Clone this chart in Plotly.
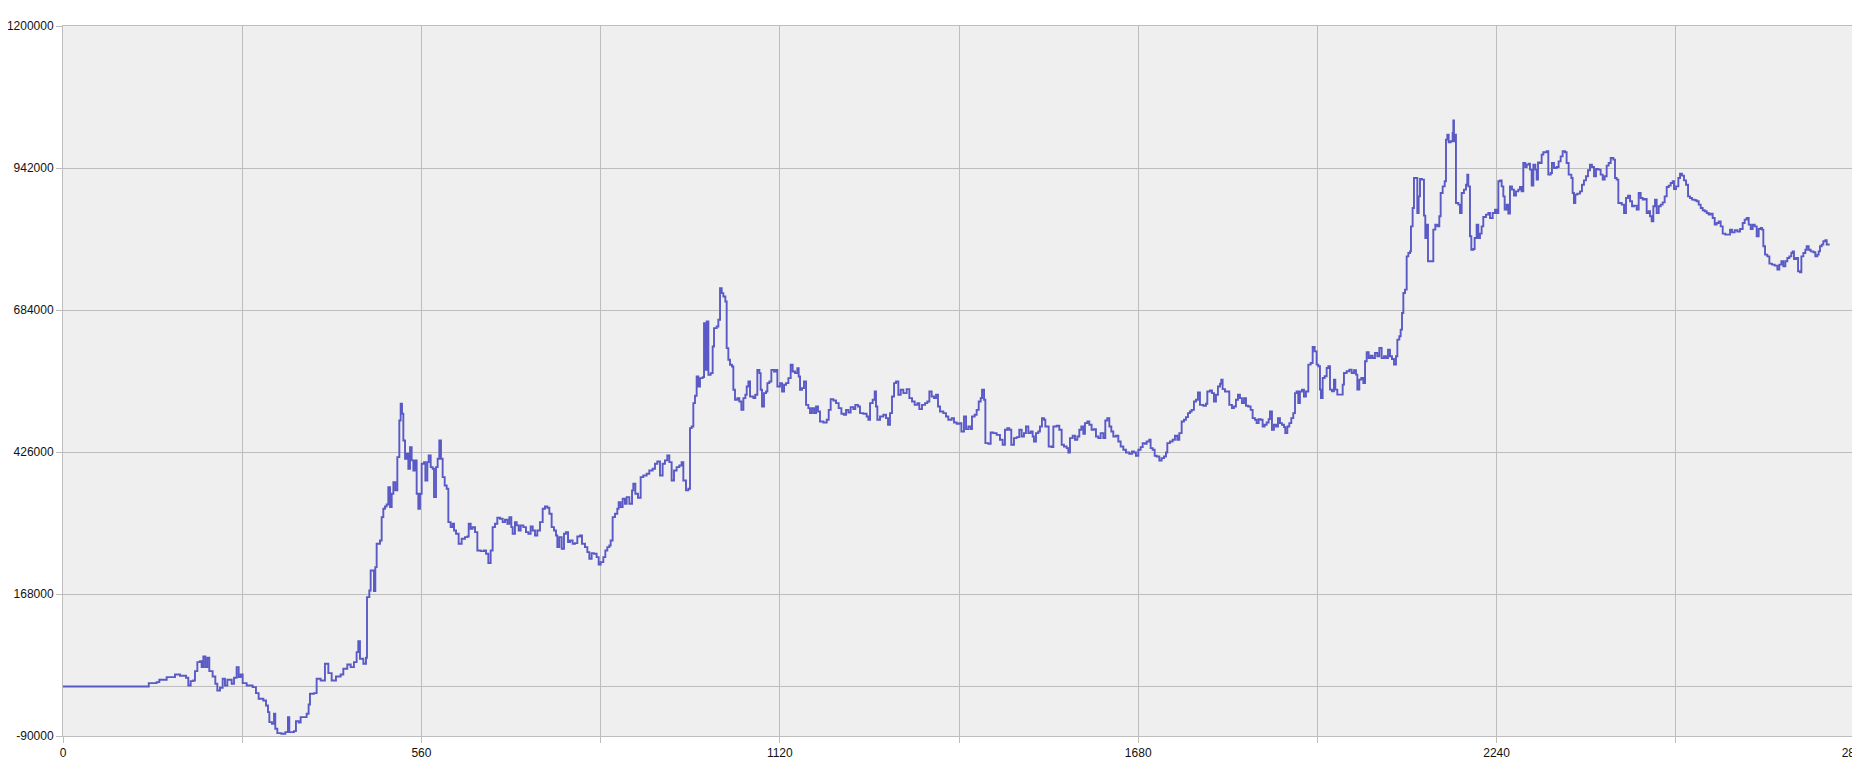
import plotly.graph_objects as go

# Data (x = step index, y = value)
xs = [
0,133.3,134,146.3,150.5,162,175,182.8,192.2,195.8,199.5,203.6,206.2,209.9,214,216.6,219.3,222.4,225.5,228.6,233.8,238,241.1,245.3,249.5,253.1,256.8,263.5,267.2,271.3,274.5,277.6,280.7,287,296.3,301.5,305.7,313,317.2,320.3,322.4,326.5,329.7,331.7,334.9,341.1,347.4,351.5,353.6,360.9,364,368.2,371.3,380.7,383.8,385.9,392.1,396.3,402.6,409.3,414.6,419.8,426.5,433.8,438,444.2,449.5,454.6,458.8,461.4,464,469.3,473.4,475,478.6,480.7,483.8,485.9,488,
490.1,495.3,497.9,500.5,503.1,505.7,508.3,511,513.6,516.2,519.3,522.4,525.5,527.6,529.7,531.8,534.4,537,539.6,542.2,544.8,547.4,550,552.6,555.2,557.8,560.4,564.1,566.2,569.3,571.4,574.5,577.6,579.7,582.8,585.4,588,590.6,593.2,596.4,599.5,602.1,605.7,608.9,611,614.1,618.2,622.9,628.1,631.8,633.9,637,640.1,643.8,647.4,652.6,657.8,661,664.6,668.2,671.3,675,678.6,682.8,687,690.6,694.3,697.4,700.5,702.6,706.2,708.9,712,715.1,719.3,723.4,727.1,730.7,733.9,737.5,741.1,745.3,749.5,753.1,756.8,759.9,763.5,767.2,770.3,772.4,775.5,779.2,782.8,785.9,789.1,792.2,796.3,800,803.6,807.8,810.9,815.6,819.3,822.4,826,829.7,833.8,837,840.1,844.3,847.4,850.5,853.6,855.7,858.8,862.5,866.1,868.2,871.3,874.5,878.1,880.7,884.9,889.1,891.1,894.3,898.4,902.6,906.7,911.9,916.1,921.3,925,928.6,932.8,936.9,940.6,944.2,947.4,951,954.7,958.8,963,966.6,969.3,973.4,977.1,
979.7,982.3,984.9,987.5,990.1,992.7,995.3,999.5,1001.6,1003.7,1005.8,1008.4,1012,1015.1,1017.2,1021.4,1024,1026.6,1029.2,1031.8,1034.9,1037,1039.6,1042.2,1045.3,1047.4,1050,1053.7,1056.8,1059.9,1063.1,1066.2,1068.3,1070.9,1073.5,1078.7,1081.8,1084.9,1088.1,1090.1,1092.2,1095.3,1098.5,1100.6,1103.7,1106.8,1111,1114.1,1116.2,1120.3,1123.5,1126.6,1129.7,1133.4,1137,1140.1,1143.8,1147.4,1149.5,1151.6,1154.7,1157.8,1161,1164.6,1167.2,1170.3,1173.5,1176.6,1179.7,1182.8,1188,1193.3,1196.4,1199.5,1203.7,1207.8,1212,1216.2,1220.3,1223.5,1227.1,1230.7,1234.9,1238,1242.2,1245.3,1250.5,1255.7,1258.4,1261,1265.1,1268.3,1270.3,1272.4,1276.6,1281.8,1286,1289.1,1292.2,1295.3,1298.5,1301.6,1305.2,1308.9,1313,1318.2,1322.4,1326.6,1330.7,1334.9,1338,1342.2,1346.9,1350.5,1353.7,1357.3,1361,1364.1,1367.2,1370.3,1375.5,1379.7,1383.3,1388.6,1392.2,1396.4,1400.5,1403.7,1407.8,1411,1414.6,1418.2,1420.3,1424.5,1427.6,1430.8,1433.9,1436,1439.1,1441.2,1445.8,1449.5,1453.6,1458.8,
1464,1468.2,1471.8,1475.5,1478.6,1481.7,1485.9,1490.1,1494.2,1497.9,1501.5,1504.6,1508.3,1511.9,1515.1,1517.1,1520.3,1523.9,1526.5,1529.6,1532.8,1534.9,1538,1540.1,1544.7,1547.4,1552.6,1556.7,1560.4,1564,1568.2,1570.8,1573.4,1577.6,1581.2,1584.9,1588,1591.1,1594.2,1596.8,1600.5,1603.6,1607.2,1610.9,1614,1617.7,1621.3,1625.5,1628.6,1631.7,1634.9,1638,1641.1,1645.3,1648.9,1652.6,1656.7,1660.9,1666.1,1670.3,1673.4,1676.5,1680.2,1683.8,1687,1690.6,1693.2,1697.3,1699.4,1702.6,1705.7,1708.8,1713,1716.6,1720.3,1723.4,1725.5,1729.6,1733.8,1737.4,1741.1,1744.2,1747.9,1751.5,1754.6,1757.8,1760.9,1763.5,1767.1,1770.3,1773.4,1776.5,1781.7,1785.9,1788,1792.1,1795.3,1798.4,1801.5,1804.6,1807.8,1809.8,1811.9,1815.6,1819.2,1822.3,1826.5,1829.6,1832.7,1835.9,1839,1842.1,1845.3,1848.4,1852,1855.7,1858.8,1862.4,1865,1868.2,1871.3,1874.4,1877.5,1880.7,1883.8,1885.9,1889,1892.1,1895.3,1898.4,1901.5,1904.6,1907.8,1909.8,1913,1916.1,1919.2,1922.3,1925,1927.5,1930.1,1932.7,1935.9,1939,1942.1,
1945.8,1949.5,1952.6,1955.7,1958.8,1961.4,1964,1965.6,1968.2,1971.3,1974.5,1977.1,1979.7,1982.8,1985.9,1988,1991.1,1996.3,1999.5,2001.5,2005.7,2009.9,2013.5,2017.2,2020.3,2022.4,2025.5,2028.6,2031.8,2034.4,2037,2040.1,2043.2,2046.3,2050,2053.6,2056.8,2060.4,2064.1,2067.2,2070.3,2073.4,2076.5,2079.7,2082.8,2084.9,2088,2090.1,2092.2,2094.3,2096.9,2099.5,2102.1,2104.7,2106.2,2108.8,2110.9,2115.1,2116.1,2118.2,2120.3,2123.4,2126.5,2128.6,2130.7,2132.8,2138.5,2141.1,2144.2,2147.4,2150.5,2152.6,2155.7,2158.9,2160.9,2163,2165.1,2168.2,2171.3,2172.4,2173.4,2175.5,2176.5,2180.2,2182.8,2185.4,2189,2192.2,2194.2,2195.8,2198.4,2200.5,2203.6,2205.7,2208.8,2211.4,2214,2216.6,2219.2,2223.4,2227.1,2229.7,2233.8,2237.5,2240.1,2242.7,2245.3,2247.9,2250.5,2252.6,2255.7,2258.3,2260.9,2264,2267.2,2270.3,2273.9,2276.5,2279.1,2281.7,2284.9,2287,2290.1,2292.2,2294.8,2297.4,2300.5,2302.6,2304.7,2307.8,2310.4,2313,2318.2,2320.8,2324.5,2326.5,2329.7,2333.8,2336.9,2340.1,2343.2,2346.9,2349.4,2352.6,2356.8,2358.8,2360.9,2363,2366.1,2370.3,2373.4,2376.5,2379.7,2382.8,2385.9,2389,2392.2,2395.3,2398.9,
2402.6,2405.8,2408.9,2412,2415.1,2418.3,2422.4,2425,2427.6,2430.2,2435.5,2439.1,2442.2,2445.3,2448.5,2451.6,2454.7,2458.9,2462,2465.1,2468.3,2471.4,2474.5,2477.6,2479.7,2482.3,2484.9,2487.5,2490.1,2493.3,2496.4,2499.5,2502.6,2505.8,2508.9,2512,2515.1,2517.2,2520.3,2524,2526.6,2529.7,2532.8,2536,2539.1,2542.2,2545.3,2549.5,2552.6,2555.8,2558.9,2562,2565.1,2568.3,2571.4,2574.5,2577.6,2580.8,2583.9,2587,2590.1,2593.3,2597.4,2601.6,2604.7,2607.8,2612,2616.2,2620.3,2624.5,2627.6,2630.8,2633.9,2637,2640.1,2643.3,2646.4,2649.5,2652.6,2654.7,2656.8,2659.4,2663,2666.2,2670.3,2674.5,2678.7,2681.8,2684.9,2688,2691.2,2694.3,2697.4,2700.5,2702.6,2704.7,2707.8,2711,2714.1,2716.2,2719.3,2722.4,2724.5,2727.6,2730.7,2734.9,2738,2741.2,2743.2,2745.3,2748,2750.5,2753.7,2755.8,2758.9,
]

ys = [
0,0,6000,7900,12100,17000,21800,19400,15800,1800,9700,10900,27900,44200,46000,35100,54500,35100,52100,27900,18200,4800,-7300,-2400,13900,1800,12100,4800,15800,35100,17000,21800,6000,1800,-1200,-12100,-22400,-25400,-34500,-46600,-64800,-67800,-49700,-76900,-84800,-86000,-83000,-55700,-83000,-81200,-63000,-65400,-55700,-49700,-32700,-13300,-12100,13900,10900,41200,24200,10900,18200,21800,32100,40000,35100,44200,62400,82400,50300,41200,52100,162300,174400,210700,210700,173200,216800,
259300,265300,307700,322800,327100,330700,362200,325900,350100,371300,356200,416700,483300,513600,495400,447000,413700,422800,395500,434900,410700,392500,410700,350100,322800,350100,404600,407600,374300,407600,419700,398500,395500,344000,398500,413700,447000,413700,380400,365200,359200,298600,289500,295600,283500,277400,259300,268300,271400,272600,295600,286500,289500,280500,247100,245900,247100,241100,224100,247100,289500,295600,306500,304700,298600,302900,295600,307700,289500,277400,298600,292600,283500,292600,289500,280500,277400,290700,283500,274400,283500,298600,322800,327100,324700,313800,289500,283500,274400,253200,271400,250200,277400,280500,262300,265300,259300,260500,272600,274400,259300,253200,244100,232000,242300,241100,235000,221700,225900,235000,247100,253200,256200,265300,307700,313800,322800,334900,325900,341000,331900,344000,331900,356200,368300,350100,342800,380400,383400,386400,392500,395500,404600,408800,383400,404600,410700,419700,407600,374300,392500,398500,401600,407600,374300,356200,359200,
469300,472400,514800,528100,563200,545000,560200,562000,660100,575300,663100,566200,569300,617700,651000,654000,666200,723700,714600,708600,699500,614700,593500,584400,581400,539000,520800,523800,517800,502600,523800,529900,545000,554100,526900,523800,529900,575300,569300,539000,508700,532900,536000,551100,554100,575300,572300,575300,545000,551100,536000,548100,551100,560200,584400,572300,569300,578400,563200,539000,542000,554100,511700,505700,496600,505700,496600,508700,499600,481400,479600,484500,502600,522000,519600,514800,505700,495400,493600,502600,497800,507500,503900,511700,508700,496600,495400,490500,484500,514800,520800,536000,508700,484500,490500,493600,487500,475400,496600,526900,551100,554100,529900,539000,532900,540200,523800,517800,511700,514800,503900,511700,514800,517800,536000,526900,523800,529900,508700,499600,496600,490500,484500,487500,479600,477200,478400,463300,490500,467500,472400,467500,490500,493600,502600,517800,523800,539000,520800,442100,440900,461500,460300,457200,
448200,439100,466300,469400,466300,439100,451200,453000,466300,454200,460300,472400,460300,463300,454200,445100,460300,463300,472400,487500,484500,472400,472400,436000,434800,472400,473600,466300,439100,436000,433000,425100,451200,455400,448200,454200,466300,472400,459100,478400,481500,475400,466300,467500,454200,451200,460300,451200,483300,487500,472400,463300,454200,455400,445100,436000,430000,425100,422700,427000,425100,419100,430000,434800,442100,440900,445100,448200,433000,430000,419100,417900,410600,414800,417900,425100,442100,445100,448200,455400,448200,460300,481500,484500,489300,496600,499600,502600,517800,520800,534100,511700,509900,513600,536000,537800,533000,517800,529900,545000,549900,557200,540200,536000,536000,511700,505700,508700,520800,529900,523800,514800,523800,509900,508700,502600,487500,484500,478400,485700,484500,472400,475400,479600,485700,499600,466300,475400,472400,487500,478400,475400,471200,460300,472400,478400,487500,496600,533000,536000,514800,536000,539000,526900,536000,
584700,587700,616800,608900,584700,581700,539300,524200,560500,563500,578700,581700,539300,536300,557500,539300,530200,530200,548400,569600,572600,575600,569600,574400,566600,539300,557500,560500,551400,590800,607100,596800,601100,596800,605900,599900,615000,596800,599900,596800,612000,599900,595000,584700,599900,630100,636200,648300,678600,714900,721000,781500,787600,790600,836000,869400,923900,923900,860300,890500,922000,920800,855400,814800,839100,772500,772500,830000,839100,836000,854200,896600,908700,917800,993500,1002600,988700,990500,1005600,1028600,990500,1002600,878400,875400,860300,896600,902700,911700,929900,908700,817900,793600,794900,814800,839100,814800,822700,836000,853000,857200,860300,851200,860300,866300,860300,917800,919600,908700,890500,866300,875400,859100,908700,902700,891800,899600,902700,907500,899600,951100,943800,948100,949900,939000,909900,948100,939000,920800,952300,951100,966300,970500,972300,929900,932900,951100,942000,943800,954100,963200,972300,970500,951100,929900,923900,896600,878400,893600,895400,899600,911700,919600,926900,937800,948100,943800,926900,940200,939000,
929900,920800,926900,946300,951100,960200,957200,923900,920800,878400,875400,860300,887500,891800,881500,872400,873600,866300,896600,887500,884500,885700,860300,863300,854200,845100,872400,884500,860300,872400,875400,879600,890500,907500,909900,914800,917800,903900,908700,923900,931700,928100,919600,911700,890500,887500,884500,883300,881500,875400,869400,865100,863300,860300,857200,859100,851200,839100,842100,845100,836000,822700,820900,820900,830000,825100,828800,826600,831200,842100,848200,851200,839100,831200,839100,836000,817900,831200,833000,830000,799700,784600,781500,768200,766400,764600,757300,766400,772500,763400,772500,778500,781500,787600,790600,776700,778500,754300,752500,781500,787600,793600,799700,793600,790600,788800,781500,784600,790600,799700,802700,808800,810600,802700,804600,
]

x_tick_vals = [0, 280, 560, 840, 1120, 1400, 1680, 1960, 2240, 2520, 2800]
x_tick_text = ["0", "", "560", "", "1120", "", "1680", "", "2240", "", "2800"]
y_tick_vals = [-90000, 168000, 426000, 684000, 942000, 1200000]
y_tick_text = ["-90000", "168000", "426000", "684000", "942000", "1200000"]

grid = "#bdbdbd"
fig = go.Figure()
fig.add_trace(go.Scatter(
    x=xs, y=ys, mode="lines", line=dict(color="#5a5ac6", width=1.9, shape="hv"),
    showlegend=False, hoverinfo="skip"))

fig.add_shape(type="line", xref="x", yref="y", x0=0, x1=2800, y0=0, y1=0,
              line=dict(color=grid, width=1), layer="below")

# The page body adds an 8px offset; sizes/margins compensate so the plot area
# lands at x 63..1855, y 26..736 in the window.
fig.update_layout(
    template="none",
    width=1852, height=764,
    margin=dict(l=55, r=5, t=18, b=36, autoexpand=False),
    paper_bgcolor="white", plot_bgcolor="#efefef",
    font=dict(family="Liberation Sans, Arial, sans-serif", size=12, color="#111111"),
    xaxis=dict(range=[0, 2800], tickmode="array", tickvals=x_tick_vals, ticktext=x_tick_text,
               showgrid=True, gridcolor=grid, gridwidth=1, zeroline=False,
               showline=True, linecolor=grid, linewidth=1, mirror=True,
               ticks="outside", ticklen=6, tickcolor=grid, automargin=False,
               ticklabeloverflow="allow"),
    yaxis=dict(range=[-90000, 1200000], tickmode="array", tickvals=y_tick_vals, ticktext=y_tick_text,
               showgrid=True, gridcolor=grid, gridwidth=1, zeroline=False,
               showline=True, linecolor=grid, linewidth=1, mirror=True,
               ticks="outside", ticklen=6, tickcolor=grid, automargin=False),
)

fig.write_html("out.html")
